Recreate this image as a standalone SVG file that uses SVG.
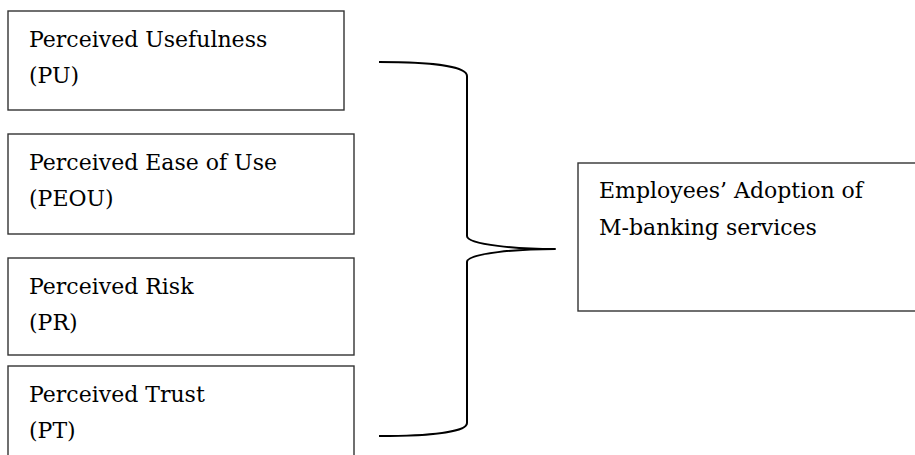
<svg xmlns="http://www.w3.org/2000/svg" width="915" height="455" viewBox="0 0 915 455">
  <style>
    .box { fill: #ffffff; stroke: #333333; stroke-width: 1.4; }
    .label { font-family: "DejaVu Serif", "Liberation Serif", serif; font-size: 22px; fill: #000000; }
    .brace { fill: none; stroke: #000000; stroke-width: 2; stroke-linejoin: round; stroke-linecap: butt; }
  </style>
  <rect width="915" height="455" fill="#ffffff"/>

  <g id="pu">
    <rect class="box" x="8" y="11" width="336" height="99"/>
    <text class="label" x="29" y="46.5">Perceived Usefulness</text>
    <text class="label" x="29" y="83">(PU)</text>
  </g>

  <g id="peou">
    <rect class="box" x="8" y="134" width="346" height="100"/>
    <text class="label" x="29" y="170">Perceived Ease of Use</text>
    <text class="label" x="29" y="206">(PEOU)</text>
  </g>

  <g id="pr">
    <rect class="box" x="8" y="258" width="346" height="97"/>
    <text class="label" x="29" y="294">Perceived Risk</text>
    <text class="label" x="29" y="330">(PR)</text>
  </g>

  <g id="pt">
    <rect class="box" x="8" y="366" width="346" height="100"/>
    <text class="label" x="29" y="402">Perceived Trust</text>
    <text class="label" x="29" y="438">(PT)</text>
  </g>

  <g id="adoption">
    <rect class="box" x="578" y="163" width="345" height="148"/>
    <text class="label" x="599" y="198">Employees’ Adoption of</text>
    <text class="label" x="599" y="235">M-banking services</text>
  </g>

  <g id="connectors">
    <path class="brace" d="M379,62 C430,62 467,66 467,76 V236 C467,245 520,249 555,249 C520,249 467,253 467,262 V423 C467,432 430,436 379,436"/>
  </g>
</svg>
